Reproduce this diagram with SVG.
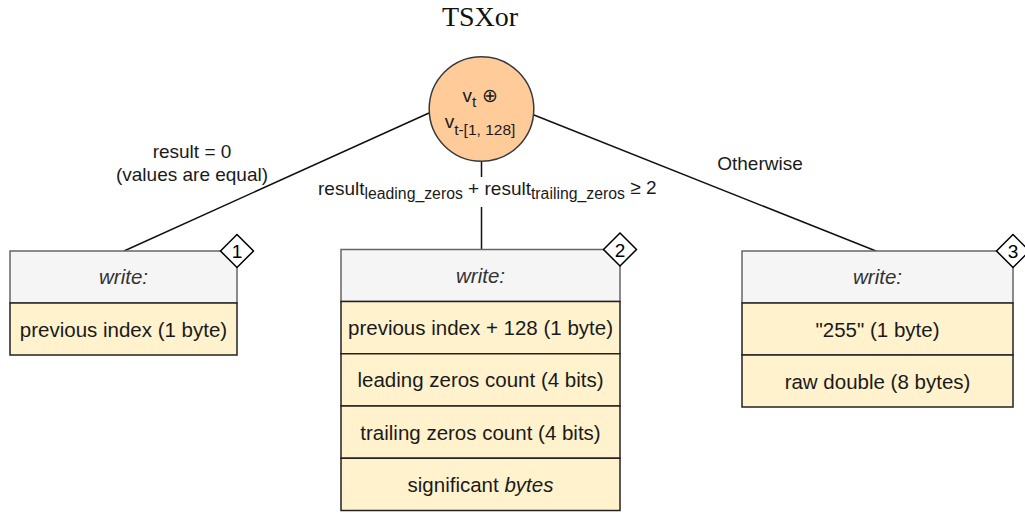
<svg xmlns="http://www.w3.org/2000/svg" width="1025" height="513" viewBox="0 0 1025 513">
  <style>
    text { font-family: "Liberation Sans", Arial, Helvetica, sans-serif; fill: #1a1a1a; }
    .title { font-family: "Liberation Serif", "Times New Roman", serif; font-size: 28px; fill: #111; }
    .lbl { font-size: 19px; }
    .cell { font-size: 20.5px; }
    .hdrtxt { font-size: 20.5px; font-style: italic; fill: #333; }
    .hdr { fill: #f5f5f5; stroke: #666; stroke-width: 1.5; }
    .row { fill: #fff2cc; stroke: #222; stroke-width: 1.5; }
    .dia { fill: #fff; stroke: #000; stroke-width: 1.5; }
    .num { font-size: 19px; fill: #000; }
    .conn { stroke: #111; stroke-width: 1.5; fill: none; }
    .lblbg { fill: #fff; }
  </style>

  <rect width="1025" height="513" fill="#fff"/>

  <text class="title" x="480" y="26" text-anchor="middle">TSXor</text>

  <g id="connectors">
    <line class="conn" x1="429" y1="113" x2="124" y2="251"/>
    <line class="conn" x1="481.5" y1="161" x2="481.5" y2="249.5"/>
    <line class="conn" x1="534" y1="115" x2="876" y2="251"/>
    <g id="label-left">
      <text class="lbl" x="192" y="158" text-anchor="middle">result = 0</text>
      <text class="lbl" x="192" y="181" text-anchor="middle">(values are equal)</text>
    </g>
    <g id="label-mid">
      <rect class="lblbg" x="316" y="177" width="344" height="30"/>
      <text class="lbl" x="318" y="195">result<tspan font-size="15.8" dy="4">leading_zeros</tspan><tspan dy="-4"> + result</tspan><tspan font-size="15.8" dy="4">trailing_zeros</tspan><tspan dy="-5"> ≥ 2</tspan></text>
    </g>
    <g id="label-right">
      <text class="lbl" x="760" y="170" text-anchor="middle">Otherwise</text>
    </g>
  </g>

  <g id="node-xor">
    <circle cx="481.5" cy="109" r="52.3" fill="#ffcc99" stroke="#36393d" stroke-width="1.5"/>
    <text class="lbl" x="480" y="102" text-anchor="middle">v<tspan font-size="15.5" dy="4.5">t</tspan><tspan dy="-4.5"> ⊕</tspan></text>
    <text class="lbl" x="480" y="128" text-anchor="middle">v<tspan font-size="15.5" dy="6.5">t-[1, 128]</tspan></text>
  </g>

  <g id="node-1">
    <rect class="hdr" x="10" y="251" width="227" height="52"/>
    <text class="hdrtxt" x="123.5" y="284" text-anchor="middle">write:</text>
    <rect class="row" x="10" y="303" width="227" height="52"/>
    <text class="cell" x="123.5" y="336.5" text-anchor="middle">previous index (1 byte)</text>
    <polygon class="dia" points="237,234.5 253.5,251 237,267.5 220.5,251"/>
    <text class="num" x="237" y="258" text-anchor="middle">1</text>
  </g>

  <g id="node-2">
    <rect class="hdr" x="341" y="249.5" width="279" height="52"/>
    <text class="hdrtxt" x="480.5" y="282.5" text-anchor="middle">write:</text>
    <rect class="row" x="341" y="301.5" width="279" height="52.25"/>
    <text class="cell" x="480.5" y="335" text-anchor="middle">previous index + 128 (1 byte)</text>
    <rect class="row" x="341" y="353.75" width="279" height="52.25"/>
    <text class="cell" x="480.5" y="387" text-anchor="middle">leading zeros count (4 bits)</text>
    <rect class="row" x="341" y="406" width="279" height="52.25"/>
    <text class="cell" x="480.5" y="439.5" text-anchor="middle">trailing zeros count (4 bits)</text>
    <rect class="row" x="341" y="458.25" width="279" height="52.25"/>
    <text class="cell" x="480.5" y="491.5" text-anchor="middle">significant <tspan font-style="italic">bytes</tspan></text>
    <polygon class="dia" points="620,233 636.5,249.5 620,266 603.5,249.5"/>
    <text class="num" x="620" y="256.5" text-anchor="middle">2</text>
  </g>

  <g id="node-3">
    <rect class="hdr" x="742" y="251" width="271" height="52"/>
    <text class="hdrtxt" x="877.5" y="284" text-anchor="middle">write:</text>
    <rect class="row" x="742" y="303" width="271" height="52"/>
    <text class="cell" x="877.5" y="336.5" text-anchor="middle">"255" (1 byte)</text>
    <rect class="row" x="742" y="355" width="271" height="52"/>
    <text class="cell" x="877.5" y="388.5" text-anchor="middle">raw double (8 bytes)</text>
    <polygon class="dia" points="1013,234.5 1029.5,251 1013,267.5 996.5,251"/>
    <text class="num" x="1013" y="258" text-anchor="middle">3</text>
  </g>
</svg>
